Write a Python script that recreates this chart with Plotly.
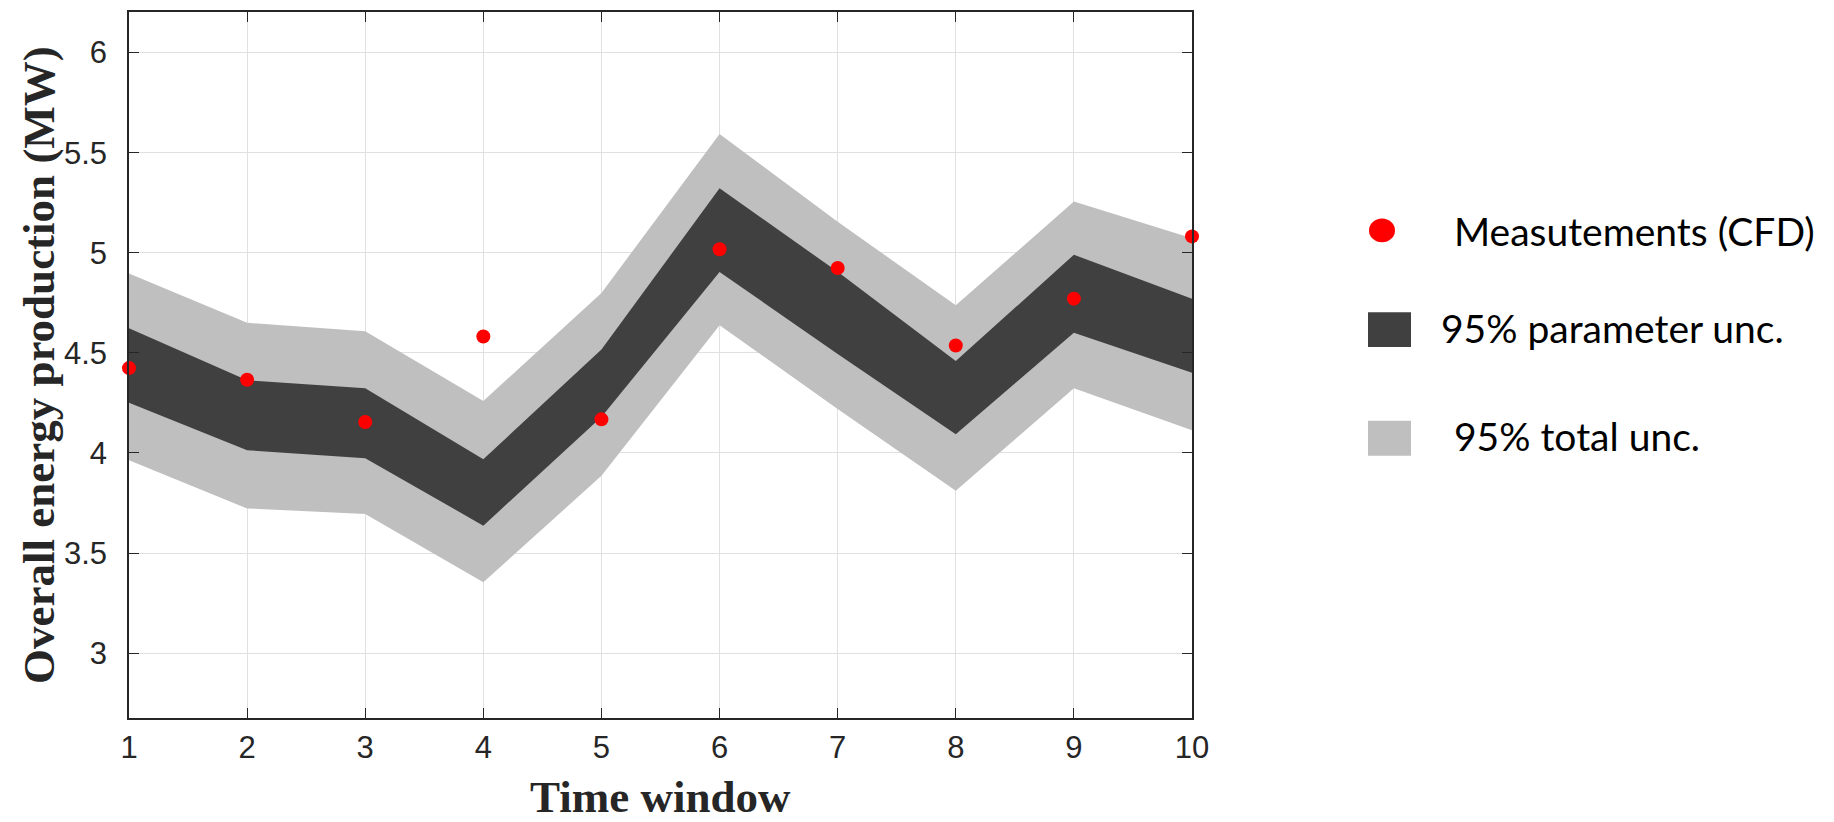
import plotly.graph_objects as go

# ---- data ----
time_window = [1, 2, 3, 4, 5, 6, 7, 8, 9, 10]
measurements = [4.424, 4.366, 4.155, 4.582, 4.168, 5.018, 4.924, 4.537, 4.771, 5.082]
param_upper = [4.623, 4.363, 4.323, 3.969, 4.517, 5.322, 4.905, 4.459, 4.990, 4.771]
param_lower = [4.251, 4.014, 3.974, 3.637, 4.180, 4.904, 4.495, 4.094, 4.600, 4.401]
total_upper = [4.896, 4.650, 4.608, 4.260, 4.799, 5.594, 5.155, 4.738, 5.256, 5.073]
total_lower = [3.964, 3.723, 3.695, 3.354, 3.886, 4.638, 4.220, 3.811, 4.323, 4.114]
y_ticks = [3, 3.5, 4, 4.5, 5, 5.5, 6]
y_tick_labels = ["3", "3.5", "4", "4.5", "5", "5.5", "6"]
legend_labels = ["Measutements (CFD)", "95% parameter unc.", "95% total unc."]

RED = "#ff0000"
DARK = "#404040"
LIGHT = "#bfbfbf"
AXIS = "#262626"

W, H = 1834, 822
L, R, T, B = 129, 1192, 10, 718


def px(xp):
    return (xp - L) / (R - L)


def py(yp):
    return (B - yp) / (B - T)


fig = go.Figure()
fig.add_trace(go.Scatter(
    x=time_window + time_window[::-1], y=total_upper + total_lower[::-1],
    fill="toself", fillcolor=LIGHT, mode="none", line=dict(width=0),
    hoverinfo="skip", showlegend=False))
fig.add_trace(go.Scatter(
    x=time_window + time_window[::-1], y=param_upper + param_lower[::-1],
    fill="toself", fillcolor=DARK, mode="none", line=dict(width=0),
    hoverinfo="skip", showlegend=False))
fig.add_trace(go.Scatter(
    x=time_window, y=measurements, mode="markers",
    marker=dict(color=RED, size=14, line=dict(width=0)),
    cliponaxis=False, showlegend=False))

tickfont = dict(family="Liberation Sans, Arial, sans-serif", size=31, color=AXIS)
fig.update_xaxes(range=[1, 10], tickvals=time_window, ticktext=[str(v) for v in time_window],
                 ticks="inside", ticklen=10, tickcolor=AXIS, tickwidth=1.3,
                 showline=True, linecolor=AXIS, linewidth=1.5, mirror="allticks",
                 showgrid=True, gridcolor="#e0e0e0", gridwidth=1, zeroline=False,
                 tickfont=tickfont, ticklabelstandoff=1)
fig.update_yaxes(range=[2.676, 6.203], tickvals=y_ticks, ticktext=y_tick_labels,
                 ticks="inside", ticklen=10, tickcolor=AXIS, tickwidth=1.3,
                 showline=True, linecolor=AXIS, linewidth=1.5, mirror="allticks",
                 showgrid=True, gridcolor="#e0e0e0", gridwidth=1, zeroline=False,
                 tickfont=tickfont, ticklabelstandoff=14)

titlefont = dict(family="Liberation Serif, Times New Roman, serif", size=45, color=AXIS)
annotations = [
    dict(text="<b>Time window</b>", xref="paper", yref="paper", x=px(660), y=py(797),
         xanchor="center", yanchor="middle", showarrow=False, font=titlefont),
    dict(text="<b>Overall energy production (MW)</b>", xref="paper", yref="paper",
         x=px(39), y=py(364), xanchor="center", yanchor="middle", textangle=-90,
         showarrow=False, font=titlefont),
]
legfont = dict(family="Lato, sans-serif", size=39, color="#000000")
leg_text_x = [1452, 1439, 1452]
leg_y = [230, 327, 435]
for lab, tx, ty in zip(legend_labels, leg_text_x, leg_y):
    annotations.append(dict(text=lab, xref="paper", yref="paper", x=px(tx), y=py(ty),
                            xanchor="left", yanchor="middle", showarrow=False, font=legfont))

shapes = [
    dict(type="circle", xref="paper", yref="paper", x0=px(1369), x1=px(1395),
         y0=py(241), y1=py(217), fillcolor=RED, line=dict(width=0)),
    dict(type="rect", xref="paper", yref="paper", x0=px(1368), x1=px(1411),
         y0=py(346), y1=py(311), fillcolor=DARK, line=dict(width=0)),
    dict(type="rect", xref="paper", yref="paper", x0=px(1368), x1=px(1411),
         y0=py(455), y1=py(420), fillcolor=LIGHT, line=dict(width=0)),
]

fig.update_layout(width=W, height=H, margin=dict(l=L, r=W - R, t=T, b=H - B),
                  plot_bgcolor="white", paper_bgcolor="white",
                  annotations=annotations, shapes=shapes, showlegend=False)
fig.write_html("out.html", config={"displayModeBar": False},
               post_script="document.body.style.margin='0px';document.body.style.overflow='hidden';")
